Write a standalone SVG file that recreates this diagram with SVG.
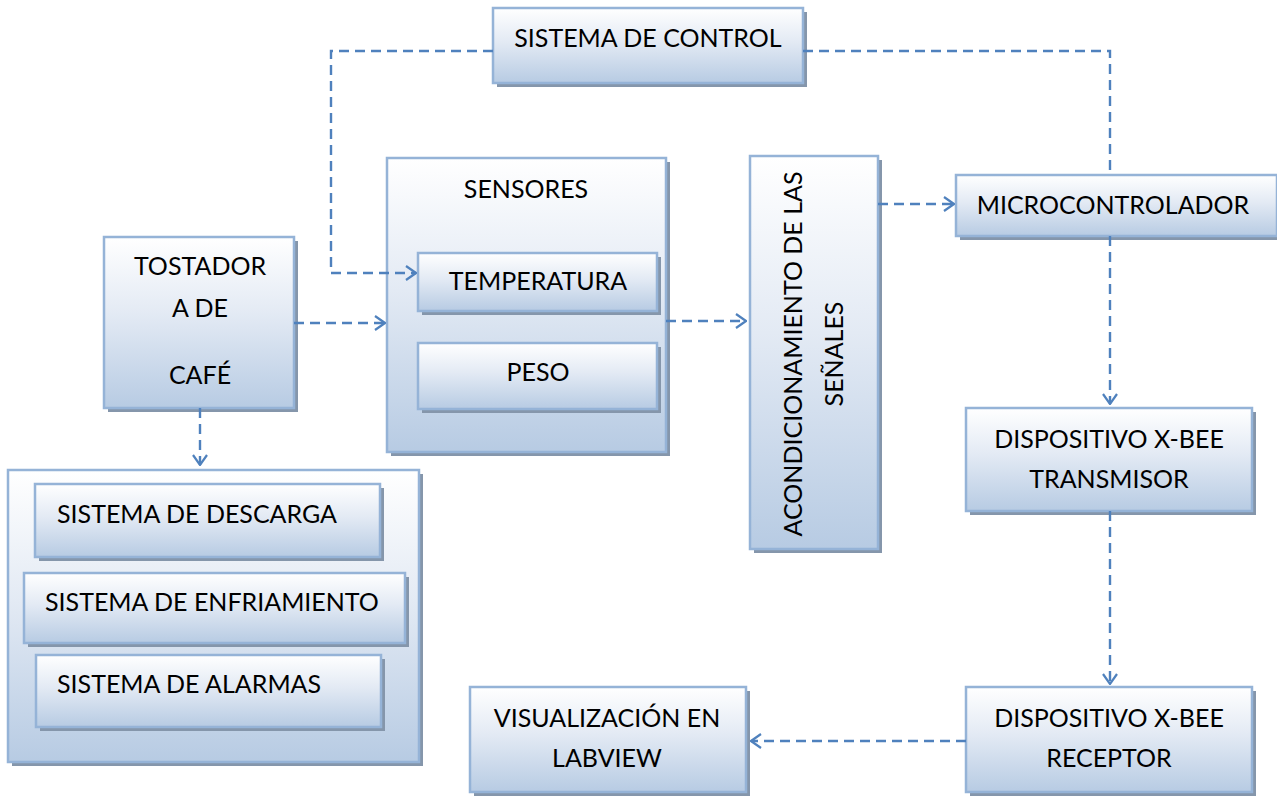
<svg xmlns="http://www.w3.org/2000/svg" width="1277" height="798" viewBox="0 0 1277 798">
  <defs>
    <linearGradient id="fill" x1="0" y1="0" x2="0" y2="1">
      <stop offset="0" stop-color="#ffffff"/>
      <stop offset="0.45" stop-color="#e3eaf4"/>
      <stop offset="1" stop-color="#b7cbe3"/>
    </linearGradient>
    <marker id="arrow" viewBox="0 0 12 16" refX="11" refY="8" markerWidth="12" markerHeight="16" markerUnits="userSpaceOnUse" orient="auto">
      <path d="M1 1 L11 8 L1 15" fill="none" stroke="#4f81bd" stroke-width="2.2"/>
    </marker>
  </defs>
  <style>
    .shadow { fill: #8596ab; }
    .box { fill: url(#fill); stroke: #95b3d7; stroke-width: 2.5; }
    .lbl { font-family: Lato, "Open Sans", sans-serif; font-size: 25px; fill: #000; text-anchor: middle; }
    .lft { text-anchor: start; }
    .conn { fill: none; stroke: #4f81bd; stroke-width: 2.4; stroke-dasharray: 10 6; }
  </style>

  <rect width="1277" height="798" fill="#ffffff"/>

  <g id="sistema-control">
    <rect class="shadow" x="497" y="12" width="310" height="75"/>
    <rect class="box" x="493" y="8" width="310" height="75"/>
    <text class="lbl" x="648" y="47">SISTEMA DE CONTROL</text>
  </g>

  <g id="tostadora">
    <rect class="shadow" x="108" y="241" width="190" height="171"/>
    <rect class="box" x="104" y="237" width="190" height="171"/>
    <text class="lbl" x="200" y="275">TOSTADOR</text>
    <text class="lbl" x="200" y="317">A DE</text>
    <text class="lbl" x="200" y="384">CAFÉ</text>
  </g>

  <g id="sensores">
    <rect class="shadow" x="391" y="162" width="279" height="294"/>
    <rect class="box" x="387" y="158" width="279" height="294"/>
    <text class="lbl" x="526" y="198">SENSORES</text>
  </g>

  <g id="temperatura">
    <rect class="shadow" x="422" y="257" width="239" height="58"/>
    <rect class="box" x="418" y="253" width="239" height="58"/>
    <text class="lbl" x="538" y="290">TEMPERATURA</text>
  </g>

  <g id="peso">
    <rect class="shadow" x="422" y="347" width="239" height="66"/>
    <rect class="box" x="418" y="343" width="239" height="66"/>
    <text class="lbl" x="538" y="381">PESO</text>
  </g>

  <g id="acondicionamiento">
    <rect class="shadow" x="754" y="160" width="128" height="393"/>
    <rect class="box" x="750" y="156" width="128" height="393"/>
    <text class="lbl" transform="translate(802 354) rotate(-90)">ACONDICIONAMIENTO DE  LAS</text>
    <text class="lbl" transform="translate(843 354) rotate(-90)">SEÑALES</text>
  </g>

  <g id="microcontrolador">
    <rect class="shadow" x="960" y="179" width="321" height="61"/>
    <rect class="box" x="956" y="175" width="321" height="61"/>
    <text class="lbl" x="1113" y="214">MICROCONTROLADOR</text>
  </g>

  <g id="xbee-transmisor">
    <rect class="shadow" x="970" y="412" width="286" height="103"/>
    <rect class="box" x="966" y="408" width="286" height="103"/>
    <text class="lbl" x="1109" y="448">DISPOSITIVO X-BEE</text>
    <text class="lbl" x="1109" y="488">TRANSMISOR</text>
  </g>

  <g id="xbee-receptor">
    <rect class="shadow" x="970" y="691" width="286" height="105"/>
    <rect class="box" x="966" y="687" width="286" height="105"/>
    <text class="lbl" x="1109" y="727">DISPOSITIVO X-BEE</text>
    <text class="lbl" x="1109" y="767">RECEPTOR</text>
  </g>

  <g id="visualizacion">
    <rect class="shadow" x="474" y="691" width="276" height="105"/>
    <rect class="box" x="470" y="687" width="276" height="105"/>
    <text class="lbl" x="607" y="727">VISUALIZACIÓN EN</text>
    <text class="lbl" x="607" y="767">LABVIEW</text>
  </g>

  <g id="actuadores">
    <rect class="shadow" x="12" y="474" width="411" height="292"/>
    <rect class="box" x="8" y="470" width="411" height="292"/>
  </g>

  <g id="sistema-descarga">
    <rect class="shadow" x="39" y="488" width="345" height="73"/>
    <rect class="box" x="35" y="484" width="345" height="73"/>
    <text class="lbl lft" x="57" y="523">SISTEMA DE DESCARGA</text>
  </g>

  <g id="sistema-enfriamiento">
    <rect class="shadow" x="28" y="577" width="381" height="70"/>
    <rect class="box" x="24" y="573" width="381" height="70"/>
    <text class="lbl lft" x="45" y="611">SISTEMA DE ENFRIAMIENTO</text>
  </g>

  <g id="sistema-alarmas">
    <rect class="shadow" x="40" y="659" width="345" height="72"/>
    <rect class="box" x="36" y="655" width="345" height="72"/>
    <text class="lbl lft" x="57" y="693">SISTEMA DE ALARMAS</text>
  </g>

  <!-- dashed signal paths, drawn above the boxes -->
  <g id="connectors">
    <path class="conn" d="M493 51 H331 V273 H416" marker-end="url(#arrow)"/>
    <path class="conn" d="M803 51 H1110 V175"/>
    <path class="conn" d="M294 323 H385" marker-end="url(#arrow)"/>
    <path class="conn" d="M200 408 V465" marker-end="url(#arrow)"/>
    <path class="conn" d="M666 321 H746" marker-end="url(#arrow)"/>
    <path class="conn" d="M878 204 H954" marker-end="url(#arrow)"/>
    <path class="conn" d="M1110 236 V404" marker-end="url(#arrow)"/>
    <path class="conn" d="M1110 511 V684" marker-end="url(#arrow)"/>
    <path class="conn" d="M966 741 H751" marker-end="url(#arrow)"/>
  </g>
</svg>
